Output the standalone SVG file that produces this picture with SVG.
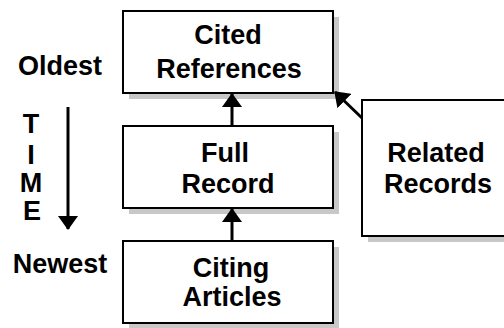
<svg xmlns="http://www.w3.org/2000/svg" width="504" height="328" viewBox="0 0 504 328">
<defs>
<style>
.box{fill:#fff;stroke:#000;stroke-width:2}
.sh{fill:#c8c8c8}
.t{font-family:"Liberation Sans",Arial,sans-serif;font-weight:bold;font-size:27px;fill:#000;text-anchor:middle}
.c{stroke:#000;stroke-width:3;fill:none}
</style>
<marker id="ah" markerUnits="userSpaceOnUse" viewBox="0 0 14 20" refX="13" refY="10" markerWidth="14" markerHeight="20" orient="auto">
<path d="M0,0 L14,10 L0,20 Z" fill="#000"/>
</marker>
</defs>
<rect width="504" height="328" fill="#fff"/>
<g id="cited">
<rect class="sh" x="129" y="17" width="210" height="82"/>
<rect class="box" x="123" y="11" width="210" height="82"/>
<text class="t" x="228" y="44">Cited</text>
<text class="t" x="229" y="78">References</text>
</g>
<g id="full">
<rect class="sh" x="129" y="132" width="210" height="82"/>
<rect class="box" x="123" y="126" width="210" height="82"/>
<text class="t" x="225" y="162">Full</text>
<text class="t" x="228" y="193">Record</text>
</g>
<g id="citing">
<rect class="sh" x="129" y="247" width="210" height="82"/>
<rect class="box" x="123" y="241" width="210" height="82"/>
<text class="t" x="231" y="277">Citing</text>
<text class="t" x="232" y="306">Articles</text>
</g>
<g id="related">
<rect class="sh" x="368" y="106" width="170" height="136"/>
<rect class="box" x="362" y="100" width="170" height="136"/>
<text class="t" x="436" y="162">Related</text>
<text class="t" x="438" y="193">Records</text>
</g>
<g id="time">
<text class="t" x="60" y="75">Oldest</text>
<text class="t" x="60" y="273">Newest</text>
<text class="t" x="31" y="133">T</text>
<text class="t" x="31" y="164">I</text>
<text class="t" x="31" y="192">M</text>
<text class="t" x="32" y="220">E</text>
</g>
<g id="connectors">
<line class="c" x1="232" y1="126" x2="232" y2="94" marker-end="url(#ah)"/>
<line class="c" x1="232" y1="241" x2="232" y2="209" marker-end="url(#ah)"/>
<line class="c" x1="362" y1="118" x2="335" y2="92" marker-end="url(#ah)"/>
<line class="c" x1="68" y1="107" x2="68" y2="229" marker-end="url(#ah)"/>
</g>
</svg>
